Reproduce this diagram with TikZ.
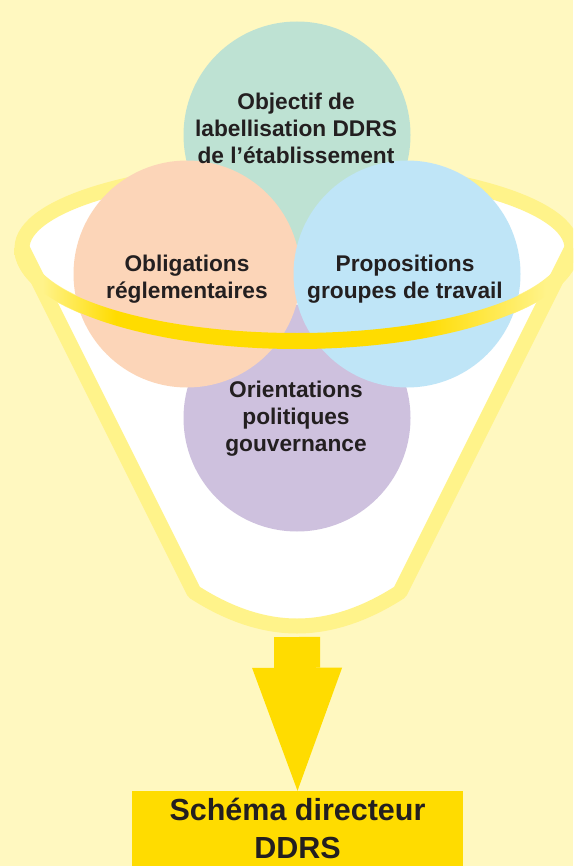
\documentclass[tikz,border=0pt]{standalone}
\usepackage{fontspec}
\setmainfont{Liberation Sans}
\usetikzlibrary{arrows.meta}

\definecolor{fond}{RGB}{255,248,192}
\definecolor{entonnoir}{RGB}{255,243,138}
\definecolor{or}{RGB}{255,220,0}
\definecolor{vert}{RGB}{190,226,211}
\definecolor{peche}{RGB}{252,213,184}
\definecolor{ciel}{RGB}{191,229,247}
\definecolor{lilas}{RGB}{206,193,222}
\definecolor{encre}{RGB}{35,31,32}

\pgfdeclarehorizontalshading{bordshade}{100bp}{color(0bp)=(entonnoir); color(27.5bp)=(entonnoir); color(34bp)=(or); color(61bp)=(or); color(72bp)=(entonnoir); color(100bp)=(entonnoir)}

\tikzset{
  bulle/.style={circle,minimum size=227pt,inner sep=0pt},
  bulletexte/.style={align=center,text=encre,inner sep=0pt,font=\fontsize{22.7}{27}\selectfont\bfseries},
  bord/.style={draw=entonnoir,line width=15pt,line join=round},
  plan/.style={fill=or,minimum width=331pt,minimum height=75pt,inner sep=0pt},
  plantexte/.style={align=center,text=encre,inner sep=0pt,font=\fontsize{30.5}{37.5}\selectfont\bfseries},
  fleche/.style={draw=or,line width=46pt,-{Triangle[width=90pt,length=123pt,line width=0pt]}}
}

\begin{document}
\begin{tikzpicture}[x=1pt,y=-1pt]
   \clip (0,0) rectangle (573,866);
   \fill[fond] (0,0) rectangle (573,866);

   \coordinate (rimL) at (22,248);
   \coordinate (rimR) at (572,248);
   \coordinate (coinL) at (194,592);
   \coordinate (coinR) at (400,592);
   \coordinate (bec) at (297,626);
   \coordinate (sortie) at (297,637);

   \fill[white] (rimL) arc[start angle=180,end angle=0,x radius=275pt,y radius=80pt]
      -- (coinR) .. controls (369,612) and (334,626) .. (bec)
      .. controls (260,626) and (225,612) .. (coinL) -- cycle;
   \draw[bord] (rimL) -- (coinL) .. controls (225,612) and (260,626) .. (bec)
      .. controls (334,626) and (369,612) .. (coinR) -- (rimR);
   \draw[bord] (rimL) arc[start angle=180,end angle=0,x radius=275pt,y radius=80pt]
      arc[start angle=0,end angle=-180,x radius=275pt,y radius=93pt] -- cycle;

   \node[bulle,fill=vert] (objectif) at (297,135) {};
   \node[bulle,fill=lilas] (orientations) at (297,418) {};
   \node[bulle,fill=peche] (obligations) at (187,274) {};
   \node[bulle,fill=ciel] (propositions) at (407,274) {};

   \node[bulletexte] (objectif-t) at (296,128) {Objectif de\\labellisation DDRS\\de l’établissement};
   \node[bulletexte] (obligations-t) at (187,279) {Obligations\\réglementaires};
   \node[bulletexte] (propositions-t) at (405,279) {Propositions\\groupes de travail};
   \node[bulletexte] (orientations-t) at (296,419) {Orientations\\politiques\\gouvernance};

   \shade[shading=bordshade] (14,248) arc[start angle=180,end angle=360,x radius=283pt,y radius=101pt]
      -- (564,248) arc[start angle=360,end angle=180,x radius=267pt,y radius=85pt] -- cycle;

   \node[plan] (schema) at (297.5,828.5) {};
   \node[plantexte] (schema-t) at (297.5,828.5) {Schéma directeur\\DDRS};
   \draw[fleche] (sortie) -- (schema.north);
\end{tikzpicture}
\end{document}
